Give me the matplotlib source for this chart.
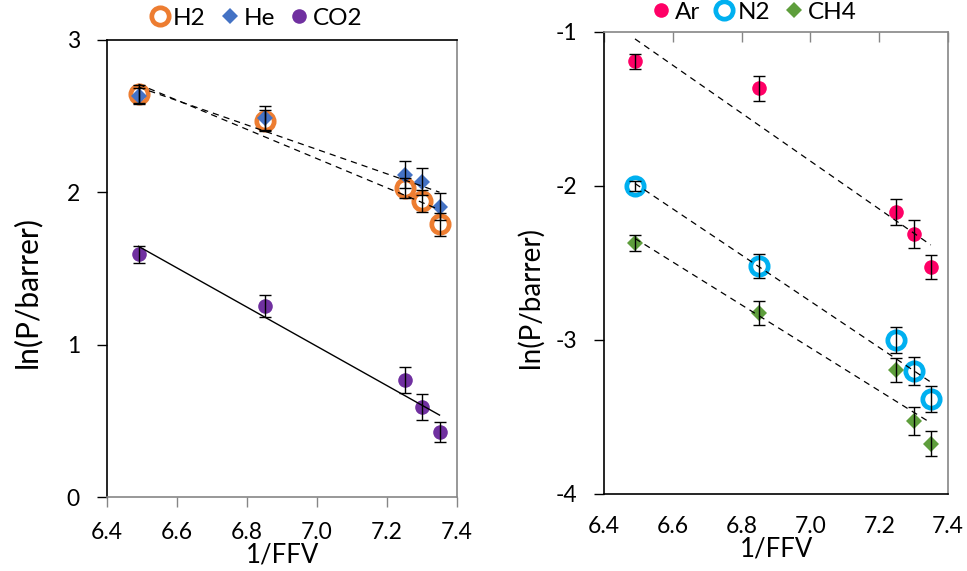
import numpy as np
import matplotlib
matplotlib.use("Agg")
import matplotlib.pyplot as plt
from matplotlib.lines import Line2D

plt.rcParams['font.family'] = ['Lato', 'DejaVu Sans']

# 1/FFV values shared by all gases
inv_ffv = [6.49, 6.85, 7.25, 7.30, 7.35]

# ln(P/barrer) and error bars, fast gases
h2 = [2.643, 2.47, 2.03, 1.943, 1.79]
h2_err = [0.06, 0.07, 0.065, 0.07, 0.077]
he = [2.634, 2.49, 2.116, 2.07, 1.906]
he_err = [0.05, 0.08, 0.09, 0.09, 0.088]
co2 = [1.593, 1.253, 0.768, 0.592, 0.428]
co2_err = [0.055, 0.07, 0.083, 0.087, 0.066]

# ln(P/barrer) and error bars, slow gases
ar = [-1.19, -1.366, -2.169, -2.312, -2.528]
ar_err = [0.049, 0.081, 0.084, 0.091, 0.079]
n2 = [-2.0, -2.52, -3.0, -3.20, -3.383]
n2_err = [0.03, 0.076, 0.084, 0.09, 0.084]
ch4 = [-2.372, -2.823, -3.195, -3.526, -3.673]
ch4_err = [0.052, 0.077, 0.076, 0.091, 0.083]

x_ticks = [6.4, 6.6, 6.8, 7.0, 7.2, 7.4]
x_ticklabels = ["6.4", "6.6", "6.8", "7.0", "7.2", "7.4"]

ORANGE = "#ED7D31"
BLUE = "#4472C4"
PURPLE = "#7030A0"
PINK = "#FF0066"
CYAN = "#00B0F0"
GREEN = "#5E9E3C"
GREY = "#868686"

W, H = 967, 571
fig = plt.figure(figsize=(W / 100, H / 100), dpi=100)


def px_axes(x0, y0, x1, y1):
    return fig.add_axes([x0 / W, 1 - y1 / H, (x1 - x0) / W, (y1 - y0) / H])


ax1 = px_axes(107, 40, 457, 497)
ax2 = px_axes(604, 32, 948, 494)

styles = {
    "H2": dict(marker="o", ms=12.5, mfc="white", mec=ORANGE, mew=3.4),
    "He": dict(marker="D", ms=8.5, mfc=BLUE, mec=BLUE, mew=0),
    "CO2": dict(marker="o", ms=10.5, mfc=PURPLE, mec=PURPLE, mew=0),
    "Ar": dict(marker="o", ms=10.5, mfc=PINK, mec=PINK, mew=0),
    "N2": dict(marker="o", ms=12.5, mfc="white", mec=CYAN, mew=3.4),
    "CH4": dict(marker="D", ms=8, mfc=GREEN, mec=GREEN, mew=0),
}


def draw_series(ax, name, y, err, fit_style):
    x = np.asarray(inv_ffv)
    y = np.asarray(y)
    ax.plot(x, y, ls="none", zorder=3, **styles[name])
    ax.errorbar(x, y, yerr=err, fmt="none", ecolor="black", elinewidth=1.0,
                capsize=4.5, capthick=1.0, zorder=4)
    slope, icpt = np.polyfit(x, y, 1)
    xs = np.array([x.min(), x.max()])
    if fit_style == "dashed":
        ax.plot(xs, slope * xs + icpt, color="black", lw=0.9, ls=(0, (5, 4)), zorder=5)
    else:
        ax.plot(xs, slope * xs + icpt, color="black", lw=1.0, zorder=5)


draw_series(ax1, "H2", h2, h2_err, "dashed")
draw_series(ax1, "He", he, he_err, "dashed")
draw_series(ax1, "CO2", co2, co2_err, "solid")

draw_series(ax2, "Ar", ar, ar_err, "dashed")
draw_series(ax2, "N2", n2, n2_err, "dashed")
draw_series(ax2, "CH4", ch4, ch4_err, "dashed")

FS = 16.5        # tick labels
FS_X = 18.5      # x-axis titles
FS_LEG = 17.5    # legends

# Left panel axes
ax1.set_xlim(6.4, 7.4)
ax1.set_ylim(0, 3)
ax1.set_yticks([0, 1, 2, 3])
ax1.set_yticklabels(["0", "1", "2", "3"])
ax1.set_xticks(x_ticks)
ax1.set_xticklabels(x_ticklabels)
ax1.tick_params(axis="x", direction="out", length=7, width=1, color=GREY,
                labelsize=FS, pad=11)
ax1.tick_params(axis="y", direction="out", length=7.5, width=1, color="black",
                labelsize=FS, pad=12)
ax1.spines["left"].set_color("black")
ax1.spines["top"].set_color("black")
ax1.spines["bottom"].set_color(GREY)
ax1.spines["right"].set_color(GREY)
for s in ax1.spines.values():
    s.set_linewidth(1.2)

# Right panel axes: tick marks along the top edge, labels below
ax2.set_xlim(6.4, 7.4)
ax2.set_ylim(-4, -1)
ax2.set_yticks([-4, -3, -2, -1])
ax2.set_yticklabels(["-4", "-3", "-2", "-1"])
ax2.set_xticks(x_ticks)
ax2.set_xticklabels(x_ticklabels)
ax2.tick_params(axis="x", bottom=False, top=True, labelbottom=True, labeltop=False,
                direction="in", length=7, width=1, color=GREY, labelsize=FS, pad=16)
ax2.tick_params(axis="y", direction="out", length=7.5, width=1, color="black",
                labelsize=FS, pad=12)
ax2.spines["left"].set_color("black")
ax2.spines["bottom"].set_color("black")
ax2.spines["top"].set_color(GREY)
ax2.spines["right"].set_color(GREY)
for s in ax2.spines.values():
    s.set_linewidth(1.2)

# Axis titles
fig.text(27 / W, 1 - 292 / H, "ln(P/barrer)", rotation=90, ha="center", va="center",
         fontsize=21.5)
fig.text(530 / W, 1 - 297 / H, "ln(P/barrer)", rotation=90, ha="center", va="center",
         fontsize=20)
fig.text(282 / W, 1 - 562 / H, "1/FFV", ha="center", va="baseline", fontsize=FS_X)
fig.text(776 / W, 1 - 557 / H, "1/FFV", ha="center", va="baseline", fontsize=FS_X)


def legend_handles(names):
    return [Line2D([], [], ls="none", **styles[n]) for n in names]


leg1 = fig.legend(legend_handles(["H2", "He", "CO2"]), ["H2", "He", "CO2"],
                  loc="center", bbox_to_anchor=(256 / W, 1 - 18 / H), ncol=3,
                  frameon=False, fontsize=FS_LEG, handlelength=0.8, handletextpad=0.15,
                  columnspacing=0.6, borderpad=0)
leg2 = fig.legend(legend_handles(["Ar", "N2", "CH4"]), ["Ar", "N2", "CH4"],
                  loc="center", bbox_to_anchor=(754 / W, 1 - 12 / H), ncol=3,
                  frameon=False, fontsize=FS_LEG, handlelength=0.8, handletextpad=0.15,
                  columnspacing=0.6, borderpad=0)

fig.savefig("out.png", dpi=100)
